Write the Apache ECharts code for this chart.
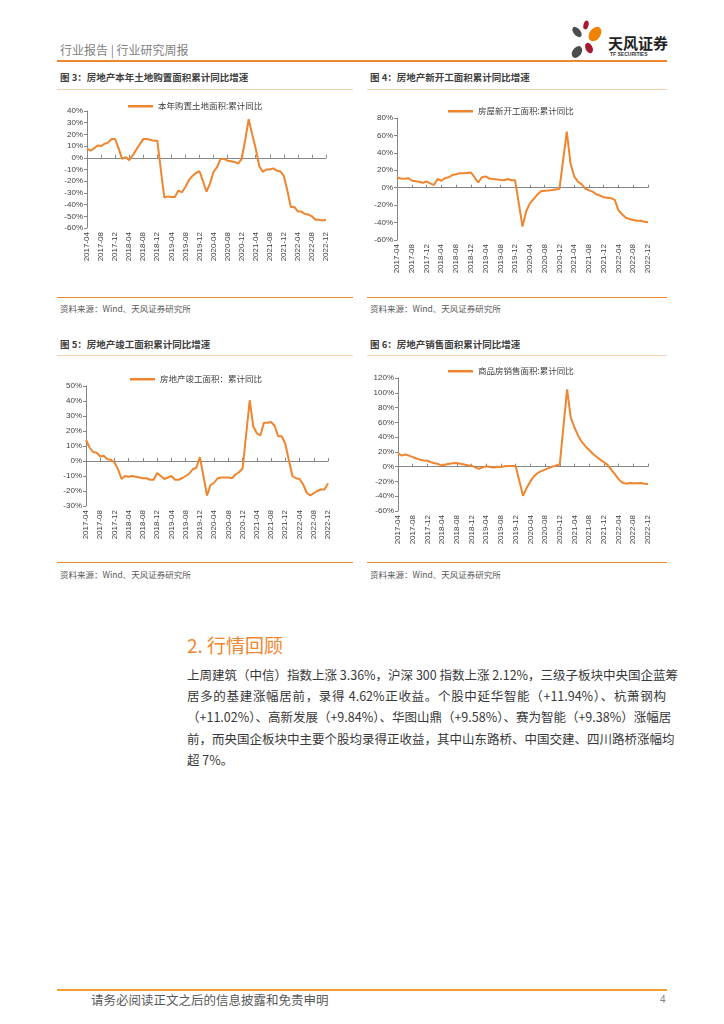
<!DOCTYPE html>
<html><head><meta charset="utf-8">
<script src="https://cdn.jsdelivr.net/npm/echarts@6/dist/echarts.min.js"></script>
<style>
body{margin:0;background:#fff;}
#page{position:relative;width:724px;height:1024px;overflow:hidden;font-family:"Noto Sans CJK SC","Noto Sans",sans-serif;background:#fff;}
.t{position:absolute;white-space:nowrap;line-height:1;}
.ln{position:absolute;height:0;}
.ftitle{font-size:9.5px;font-weight:bold;color:#404040;}
.src{font-size:8.5px;color:#595959;}
.body{position:absolute;left:187px;width:479px;font-size:12.5px;color:#383838;line-height:1;text-align:justify;text-align-last:justify;white-space:nowrap;}
#chart{position:absolute;left:0;top:0;width:724px;height:1024px;}
</style></head>
<body><div id="page">
<div class="t" style="left:60px;top:44px;font-size:12px;color:#7f7f7f;">行业报告 | 行业研究周报</div>
<div class="ln" style="left:57px;top:60px;width:610px;border-top:2px solid #f0862d;"></div>
<svg style="position:absolute;left:560px;top:14px;" width="110" height="48" viewBox="560 14 110 48">
<ellipse cx="577" cy="32" rx="3.5" ry="6" transform="rotate(-40 577 32)" fill="#4d4d4d"/>
<ellipse cx="586" cy="25" rx="2.5" ry="4.5" transform="rotate(15 586 25)" fill="#a6192e"/>
<ellipse cx="595" cy="34" rx="5.5" ry="8" transform="rotate(35 595 34)" fill="#ef8200"/>
<ellipse cx="589" cy="48" rx="3.5" ry="5.5" transform="rotate(-25 589 48)" fill="#a6192e"/>
<ellipse cx="577" cy="52" rx="4.5" ry="6.5" transform="rotate(35 577 52)" fill="#4d4d4d"/>
</svg>
<div class="t" style="left:608px;top:35px;font-size:15px;font-weight:bold;color:#222;">天风证券</div>
<div class="t" style="left:610px;top:52px;font-size:5px;font-weight:bold;color:#333;font-family:'Liberation Sans',sans-serif;">TF SECURITIES</div>

<div class="t ftitle" style="left:60px;top:73px;">图 3：房地产本年土地购置面积累计同比增速</div>
<div class="t ftitle" style="left:370px;top:73px;">图 4：房地产新开工面积累计同比增速</div>
<div class="ln" style="left:57px;top:89px;width:296px;border-top:1px solid #f8d2ad;"></div>
<div class="ln" style="left:367px;top:89px;width:300px;border-top:1px solid #f8d2ad;"></div>
<div class="ln" style="left:57px;top:297px;width:296px;border-top:1.5px solid #f0862d;"></div>
<div class="ln" style="left:367px;top:297px;width:300px;border-top:1.5px solid #f0862d;"></div>
<div class="t src" style="left:60px;top:304px;">资料来源：Wind、天风证券研究所</div>
<div class="t src" style="left:370px;top:304px;">资料来源：Wind、天风证券研究所</div>

<div class="t ftitle" style="left:60px;top:340px;">图 5：房地产竣工面积累计同比增速</div>
<div class="t ftitle" style="left:370px;top:340px;">图 6：房地产销售面积累计同比增速</div>
<div class="ln" style="left:57px;top:355px;width:296px;border-top:1px solid #f8d2ad;"></div>
<div class="ln" style="left:367px;top:355px;width:300px;border-top:1px solid #f8d2ad;"></div>
<div class="ln" style="left:57px;top:562px;width:296px;border-top:1.5px solid #f0862d;"></div>
<div class="ln" style="left:367px;top:562px;width:300px;border-top:1.5px solid #f0862d;"></div>
<div class="t src" style="left:60px;top:570px;">资料来源：Wind、天风证券研究所</div>
<div class="t src" style="left:370px;top:570px;">资料来源：Wind、天风证券研究所</div>

<div class="t" style="left:187px;top:635px;font-size:19px;color:#f0862d;">2. 行情回顾</div>
<div class="body" style="top:669px;">上周建筑（中信）指数上涨 3.36%，沪深 300 指数上涨 2.12%，三级子板块中央国企蓝筹</div>
<div class="body" style="top:690px;">居多的基建涨幅居前，录得 4.62%正收益。个股中延华智能（+11.94%）、杭萧钢构</div>
<div class="body" style="top:711px;">（+11.02%）、高新发展（+9.84%）、华图山鼎（+9.58%）、赛为智能（+9.38%）涨幅居</div>
<div class="body" style="top:733px;">前，而央国企板块中主要个股均录得正收益，其中山东路桥、中国交建、四川路桥涨幅均</div>
<div class="body" style="top:754px;text-align-last:left;">超 7%。</div>

<div class="ln" style="left:57px;top:989px;width:610px;border-top:2px solid #f0a030;"></div>
<div class="t" style="left:91px;top:994px;font-size:12.5px;color:#595959;">请务必阅读正文之后的信息披露和免责申明</div>
<div class="t" style="left:660px;top:995px;font-size:10px;color:#7f7f7f;font-family:'Liberation Sans',sans-serif;">4</div>

<div id="chart"></div>
</div>
<script>
var months = ['2017-04','2017-05','2017-06','2017-07','2017-08','2017-09','2017-10','2017-11','2017-12',
'2018-01','2018-02','2018-03','2018-04','2018-05','2018-06','2018-07','2018-08','2018-09','2018-10','2018-11','2018-12',
'2019-01','2019-02','2019-03','2019-04','2019-05','2019-06','2019-07','2019-08','2019-09','2019-10','2019-11','2019-12',
'2020-01','2020-02','2020-03','2020-04','2020-05','2020-06','2020-07','2020-08','2020-09','2020-10','2020-11','2020-12',
'2021-01','2021-02','2021-03','2021-04','2021-05','2021-06','2021-07','2021-08','2021-09','2021-10','2021-11','2021-12',
'2022-01','2022-02','2022-03','2022-04','2022-05','2022-06','2022-07','2022-08','2022-09','2022-10','2022-11','2022-12'];

var landName = '本年购置土地面积:累计同比';
var landValues = [8,6,8,10.5,10,12,13,16,16,
8,-1,0.5,-2,2,7,11.5,16,16,15.5,14.5,14.5,
-10,-34,-33,-33.5,-33.5,-28,-29.5,-25,-19,-15.5,-13,-11.5,
-20,-29,-22,-12,-8,-1,-1,-2.5,-3,-3.5,-5,-1,
15,33,20,8,-7,-12,-10,-10,-9,-11,-11.5,-15.5,
-28,-42,-42,-46,-46,-48,-48.5,-50,-53,-53,-53.5,-53];

var startsName = '房屋新开工面积:累计同比';
var startsValues = [11.7,10.6,10.2,11,8.3,7.5,6.8,5.6,7.1,
5,3,10,8,11,12,14.5,15.5,16.5,16.5,17,17.5,
12,6,12,13,10.5,10,9.5,9,8.5,10,8.5,8.5,
-18,-44.5,-27,-18,-13,-8,-4,-3.5,-3.3,-2.7,-2,-1.5,
31.5,64.5,28,13,7,4,-1,-3,-4.5,-7.5,-9,-11,
-11.5,-12,-14,-26,-30.5,-34.5,-36,-37,-38,-38,-39,-39.5];

var doneName = '房地产竣工面积：累计同比';
var doneValues = [14,9,6,5.5,3,3.5,1.2,0.8,-1,
-5.5,-12,-10,-10.5,-10,-10.5,-11,-11.5,-11.5,-12.5,-12.5,-8,
-10,-12,-11,-10,-12.5,-12.5,-11.5,-10,-8.5,-5.5,-4.5,2.6,
-10,-23,-16,-14.5,-11.5,-11,-11,-11,-11.5,-9,-7.5,-5,
17.5,40.5,23,18.5,17,25.5,25.5,26,23.5,16.5,16.5,11.5,
0.5,-10,-11.5,-12,-15.5,-21,-23,-21.5,-20,-19,-19,-15];

var salesName = '商品房销售面积:累计同比';
var salesValues = [18,15,16.5,15,13,11,9.5,8.5,8,
6,4.5,3.5,1.5,3,4,4.5,5,4,3,2,1.5,
-1,-3,-1,0.5,-0.5,-1,0,-0.5,0.5,1,1,1,
-19,-39.5,-29,-20,-13,-8.5,-6,-4,-2,0,1.5,3,
54,104.5,66,53,42,33.5,27.5,22.5,17.5,13.5,9.5,6,
2.5,-4,-10,-17,-21.5,-23,-22,-22.5,-22.5,-22,-23,-23.5];

var yMins = [-60,-60,-30,-60];
var yMaxs = [40,80,50,120];
var yIntervals = [10,20,10,20];

var lineColor = '#ef852e';
var axisColor = '#868686';
var labelColor = '#404040';
var numFont = "'Liberation Sans', Arial, sans-serif";
var cjkFont = "'Noto Sans CJK SC', sans-serif";

var names = [landName, startsName, doneName, salesName];
var values = [landValues, startsValues, doneValues, salesValues];
var grids = [
  {left:87, top:111, width:239, height:117},
  {left:397, top:118, width:251, height:122},
  {left:86, top:386, width:242, height:120},
  {left:398, top:378, width:250, height:133}
];
var legendPos = [
  {left:128, top:102},
  {left:448, top:107},
  {left:130, top:375},
  {left:448, top:367}
];

var option = {animation:false, grid:[], xAxis:[], yAxis:[], series:[], legend:[]};
for (var g=0; g<4; g++){
  option.grid.push(Object.assign({containLabel:false}, grids[g]));
  option.xAxis.push({gridIndex:g, type:'category', data:months, boundaryGap:false,
    axisLine:{show:false, onZero:false}, axisTick:{show:false},
    axisLabel:{interval:3, rotate:90, fontSize:8, color:labelColor, margin:4, fontFamily:numFont}});
  option.xAxis.push({gridIndex:g, type:'category', data:months, boundaryGap:false,
    axisLine:{show:true, onZero:true, lineStyle:{color:axisColor, width:1}},
    axisTick:{show:true, interval:3, length:3, lineStyle:{color:axisColor}},
    axisLabel:{show:false}});
  option.yAxis.push({gridIndex:g, type:'value', min:yMins[g], max:yMaxs[g], interval:yIntervals[g],
    axisLine:{show:true, lineStyle:{color:axisColor, width:1}},
    axisTick:{show:true, length:3, lineStyle:{color:axisColor}},
    splitLine:{show:false},
    axisLabel:{formatter:'{value}%', fontSize:8, color:labelColor, margin:4, fontFamily:numFont}});
  option.series.push({type:'line', name:names[g], xAxisIndex:2*g, yAxisIndex:g, data:values[g],
    symbol:'none', lineStyle:{width:2, color:lineColor}, itemStyle:{color:lineColor}});
  option.legend.push({data:[{name:names[g], icon:'rect'}], left:legendPos[g].left, top:legendPos[g].top,
    itemWidth:25, itemHeight:2.5, padding:0, selectedMode:false,
    itemStyle:{color:lineColor, borderWidth:0},
    textStyle:{fontSize:8.5, color:labelColor, fontFamily:cjkFont}});
}
var chart = echarts.init(document.getElementById('chart'), null, {renderer:'canvas'});
chart.setOption(option);
</script>
</body></html>
